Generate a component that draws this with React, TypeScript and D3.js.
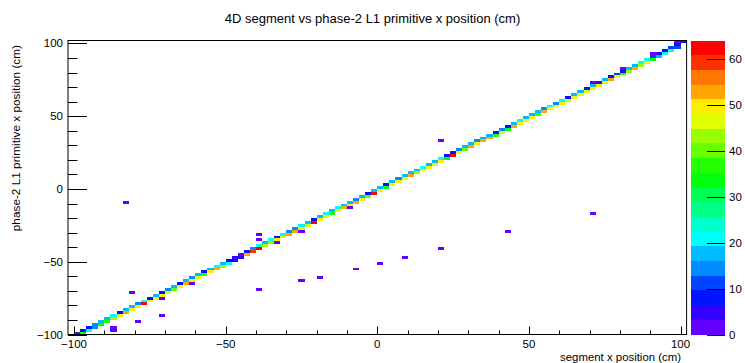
import React from 'react';
import * as d3 from 'd3';

// Histogram binning (cm)
const X_RANGE: [number, number] = [-102, 102];
const Y_RANGE: [number, number] = [-100, 102];
const BIN = 2;
const DIAG_START = -100; // low edge of the first diagonal bin
const Z_MAX = 64;
const N_CONTOURS = 20;

// Entries in the cell whose y-bin equals the x-bin
const onDiagonal = [
  2, 8, 9, 14, 16, 17, 20, 8, 16, 17,
  14, 20, 8, 17, 8, 14, 17, 8, 17, 14,
  17, 8, 17, 20, 17, 8, 5, 3, 8, 14,
  20, 17, 20, 8, 20, 14, 14, 20, 17, 8,
  17, 20, 17, 20, 17, 17, 14, 17, 8, 17,
  17, 8, 17, 14, 17, 17, 17, 20, 17, 17,
  20, 8, 8, 14, 17, 17, 14, 17, 17, 8,
  14, 8, 17, 20, 17, 17, 17, 14, 20, 14,
  20, 8, 17, 17, 8, 17, 5, 17, 8, 11,
  8, 17, 17, 20, 20, 11, 5, 8, 11, 8,
];

// Entries in the cell one y-bin below
const belowDiagonal = [
  8, 34, 21, 14, 34, 38, 42, 49, 52, 49,
  49, 62, 49, 49, 49, 46, 40, 49, 52, 49,
  46, 38, 49, 52, 42, 20, 8, 5, 52, 58,
  62, 42, 42, 49, 49, 52, 52, 49, 46, 62,
  49, 49, 38, 49, 52, 49, 52, 49, 40, 62,
  49, 34, 49, 49, 49, 52, 42, 49, 49, 46,
  49, 34, 62, 49, 40, 52, 49, 52, 52, 36,
  49, 34, 52, 49, 49, 49, 36, 52, 49, 49,
  49, 46, 49, 49, 46, 49, 49, 49, 54, 49,
  36, 42, 52, 42, 49, 34, 17, 20, 20, 11,
];

// Isolated cells: low edges (cm) and entries
const isolatedX = [
  -84, -40, -40, -82, -88, -88, -80, -72, -62, -40, -26, -20, -8, 0, 8, 20, 42, 70, 20,
  -72, -34, -26, -10, 70, 80, 90, 98, 100,
];
const isolatedY = [
  -10, -32, -36, -72, -98, -96, -92, -88, -66, -70, -64, -62, -56, -52, -48, -42, -30, -18, 32,
  -76, -38, -30, -14, 72, 82, 92, 100, 100,
];
const isolatedN = [
  2, 2, 2, 2, 2, 2, 2, 2, 2, 2, 2, 2, 2, 2, 2, 2, 2, 2, 2,
  2, 2, 2, 2, 3, 3, 3, 3, 8,
];

const xMajorTicks = [-100, -50, 0, 50, 100];
const yMajorTicks = [-100, -50, 0, 50, 100];
const zMajorTicks = [0, 10, 20, 30, 40, 50, 60];

const FONT = '"Liberation Sans", Arial, Helvetica, sans-serif';

// Rainbow palette: 49 HLS colours from violet down to red, sampled per contour band
function bandColor(z: number): string {
  let band = Math.floor((z / Z_MAX) * N_CONTOURS);
  band = Math.max(0, Math.min(N_CONTOURS - 1, band));
  const idx = Math.floor((band + 0.99) * 50 / N_CONTOURS);
  const hue = idx >= 49 ? 0 : 280 - (idx + 1) * 5.6;
  return d3.hsl(hue, 1, 0.5).formatHex();
}

export default function App() {
  const W = 745, H = 363;
  const x = d3.scaleLinear().domain(X_RANGE).range([68, 686.6]);
  const y = d3.scaleLinear().domain(Y_RANGE).range([334.5, 40.5]);
  const z = d3.scaleLinear().domain([0, Z_MAX]).range([334.5, 40.5]);

  type Cell = { x0: number; y0: number; n: number };
  const cells: Cell[] = [];
  onDiagonal.forEach((n, i) => {
    const x0 = DIAG_START + i * BIN;
    cells.push({ x0, y0: x0, n });
    cells.push({ x0, y0: x0 - BIN, n: belowDiagonal[i] });
  });
  isolatedX.forEach((x0, i) => cells.push({ x0, y0: isolatedY[i], n: isolatedN[i] }));

  const xMinor = d3.range(-100, 101, 10);
  const yMinor = d3.range(-100, 101, 10);

  const barX0 = 691, barX1 = 725;
  const bands = d3.range(N_CONTOURS);

  return (
    <svg width={W} height={H} style={{ position: 'absolute', left: 0, top: 0, background: '#fff' }}
      fontFamily={FONT}>
      <defs>
        <clipPath id="frame">
          <rect x={x(X_RANGE[0])} y={y(Y_RANGE[1])} width={x(X_RANGE[1]) - x(X_RANGE[0])}
            height={y(Y_RANGE[0]) - y(Y_RANGE[1])} />
        </clipPath>
      </defs>
      <rect width={W} height={H} fill="#fff" />

      <text x={372.5} y={23} textAnchor="middle" fontSize={13}>
        4D segment vs phase-2 L1 primitive x position (cm)
      </text>

      <g clipPath="url(#frame)" shapeRendering="crispEdges">
        {cells.filter(c => c.n > 0).map((c, i) => (
          <rect key={i} x={x(c.x0)} y={y(c.y0 + BIN)} width={x(c.x0 + BIN) - x(c.x0)}
            height={y(c.y0) - y(c.y0 + BIN)} fill={bandColor(c.n)} />
        ))}
      </g>

      {/* frame */}
      <rect x={x(X_RANGE[0])} y={y(Y_RANGE[1])} width={x(X_RANGE[1]) - x(X_RANGE[0])}
        height={y(Y_RANGE[0]) - y(Y_RANGE[1])} fill="none" stroke="#000" strokeWidth={1} />

      {/* axis ticks */}
      <g stroke="#000" strokeWidth={1}>
        {xMinor.map(v => {
          const major = xMajorTicks.includes(v);
          const px = Math.round(x(v)) + 0.5;
          return <line key={'xt' + v} x1={px} x2={px} y1={334.5} y2={334.5 - (major ? 8 : 4)} />;
        })}
        {yMinor.map(v => {
          const major = yMajorTicks.includes(v);
          const py = Math.round(y(v)) + 0.5;
          return <line key={'yt' + v} x1={68} x2={68 + (major ? 19 : 9.5)} y1={py} y2={py} />;
        })}
      </g>
      <g fontSize={11.5} fill="#000">
        {xMajorTicks.map(v => (
          <text key={'xl' + v} x={x(v)} y={348} textAnchor="middle">
            {v < 0 ? '\u2212' + Math.abs(v) : v}
          </text>
        ))}
        {yMajorTicks.map(v => (
          <text key={'yl' + v} x={63} y={y(v) + 4} textAnchor="end">
            {v < 0 ? '\u2212' + Math.abs(v) : v}
          </text>
        ))}
      </g>
      <text x={681} y={361} textAnchor="end" fontSize={11.4}>segment x position (cm)</text>
      <text transform={`translate(19.5,45) rotate(-90)`} textAnchor="end" fontSize={11.8}>
        phase-2 L1 primitive x position (cm)
      </text>

      {/* colour scale */}
      <g shapeRendering="crispEdges">
        {bands.map(b => {
          const lo = (b * Z_MAX) / N_CONTOURS;
          const hi = ((b + 1) * Z_MAX) / N_CONTOURS;
          return <rect key={'b' + b} x={barX0} y={z(hi)} width={barX1 - barX0}
            height={z(lo) - z(hi)} fill={bandColor((lo + hi) / 2)} />;
        })}
      </g>
      <g stroke="#000" strokeWidth={1}>
        {zMajorTicks.map(v => {
          const py = Math.round(z(v)) + 0.5;
          return <line key={'zt' + v} x1={barX1 - 18} x2={barX1} y1={py} y2={py} />;
        })}
      </g>
      <g fontSize={11.5}>
        {zMajorTicks.map(v => (
          <text key={'zl' + v} x={729} y={z(v) + 4}>{v}</text>
        ))}
      </g>
    </svg>
  );
}
